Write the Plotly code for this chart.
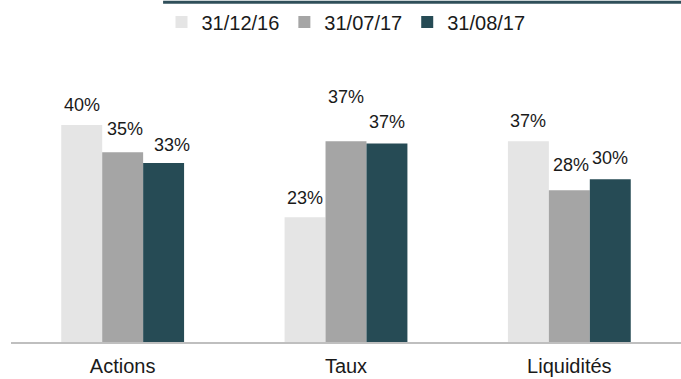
import plotly.graph_objects as go

# Allocation by asset class at three reporting dates
categories = ["Actions", "Taux", "Liquidités"]
dates = ["31/12/16", "31/07/17", "31/08/17"]
values_20161231 = [40, 23, 37]
values_20170731 = [35, 37, 28]
values_20170831 = [33, 36.6, 30]

series = [values_20161231, values_20170731, values_20170831]
colors = ["#E5E5E5", "#A5A5A5", "#264B55"]

# vertical lift (px) of each value label above its bar, per series then category
label_lift = [[20, 19, 20], [23, 44, 25], [18, 22, 21]]
label_nudge = [[0, 0, 0], [2, 0, 2], [8, 0, 0]]

BARGAP = 0.45
n = len(series)
bw = (1 - BARGAP) / n
xpos = list(range(len(categories)))

fig = go.Figure()
for j, (name, vals, col) in enumerate(zip(dates, series, colors)):
    fig.add_trace(go.Bar(
        x=xpos, y=vals, name=name,
        marker=dict(color=col, line=dict(width=0)),
        hoverinfo="skip",
    ))

annotations = []
for j, vals in enumerate(series):
    for i, v in enumerate(vals):
        annotations.append(dict(
            x=i + (j - (n - 1) / 2) * bw, y=v, xref="x", yref="y",
            text=f"{v:.0f}%", showarrow=False,
            yanchor="middle", xanchor="center",
            yshift=label_lift[j][i], xshift=label_nudge[j][i],
            font=dict(family="Liberation Sans, Arial", size=18, color="#1a1a1a"),
        ))

fig.update_layout(
    width=681, height=379,
    margin=dict(l=11, r=0, t=60, b=37, autoexpand=False),
    paper_bgcolor="white", plot_bgcolor="white",
    barmode="group", bargap=BARGAP, bargroupgap=0,
    font=dict(family="Liberation Sans, Arial", color="#1a1a1a"),
    showlegend=True,
    legend=dict(
        orientation="h", x=0.5, xanchor="center", y=1.135, yanchor="middle",
        font=dict(size=20, color="#1a1a1a"), bgcolor="rgba(0,0,0,0)",
        itemwidth=30, traceorder="normal",
    ),
    annotations=annotations,
    shapes=[dict(
        type="line", xref="paper", yref="paper",
        x0=0.227, x1=1.0, y0=1.205, y1=1.205,
        line=dict(color="#2F4F5A", width=3),
    )],
    xaxis=dict(
        tickmode="array", tickvals=xpos, ticktext=categories,
        range=[-0.5, len(categories) - 0.5],
        showgrid=False, zeroline=False,
        showline=True, linecolor="#BFBFBF", linewidth=2,
        ticks="", ticklabelstandoff=5, automargin=False,
        tickfont=dict(size=20, color="#1a1a1a"),
        fixedrange=True,
    ),
    yaxis=dict(
        range=[0, 52], visible=False, showgrid=False, zeroline=False,
        fixedrange=True, automargin=False,
    ),
)

fig.write_html("out.html", config={"displayModeBar": False})
